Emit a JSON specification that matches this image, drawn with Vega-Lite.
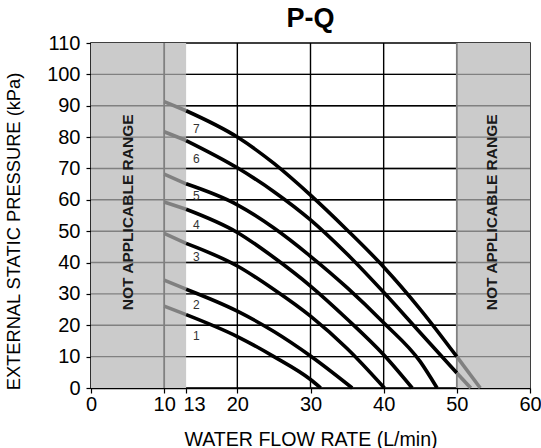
{
  "$schema": "https://vega.github.io/schema/vega-lite/v6.json",
  "width": 439,
  "height": 345,
  "autosize": {"type": "none"},
  "padding": {"left": 91, "top": 43, "right": 11, "bottom": 60},
  "background": "white",
  "title": {"text": "P-Q", "fontSize": 27, "fontWeight": "bold", "font": "Liberation Sans", "color": "black", "offset": 0, "anchor": "middle"},
  "config": {
    "view": {"stroke": "black", "strokeWidth": 1.5},
    "font": "Liberation Sans",
    "axis": {"grid": false, "domainColor": "black", "domainWidth": 1.5, "tickColor": "black", "tickWidth": 1.2, "tickSize": 5, "labelFont": "Liberation Sans", "labelFontSize": 20, "labelColor": "black", "titleFont": "Liberation Sans", "titleFontWeight": "normal", "titleColor": "black", "labelOverlap": false, "labelBound": false, "labelFlush": false}
  },
  "datasets": {
    "hgrid": [{"p": 10}, {"p": 20}, {"p": 30}, {"p": 40}, {"p": 50}, {"p": 60}, {"p": 70}, {"p": 80}, {"p": 90}, {"p": 100}],
    "vgrid": [{"q": 20}, {"q": 30}, {"q": 40}],
    "limits": [{"q": 10}, {"q": 50}],
    "bands": [{"q": 0, "q2": 13}, {"q": 50, "q2": 60}],
    "notes": [{"q": 5.1, "p": 56, "label": "NOT APPLICABLE RANGE"}, {"q": 54.8, "p": 56, "label": "NOT APPLICABLE RANGE"}],
    "labels": [
      {"curve": "7", "q": 14.4, "p": 82.5},
      {"curve": "6", "q": 14.4, "p": 73},
      {"curve": "5", "q": 14.4, "p": 61.3},
      {"curve": "4", "q": 14.4, "p": 52},
      {"curve": "3", "q": 14.4, "p": 41.7},
      {"curve": "2", "q": 14.4, "p": 26.5},
      {"curve": "1", "q": 14.4, "p": 16.6}
    ],
    "curves": [
      {"curve": "7", "segment": "below", "q": 10, "p": 91.3},
      {"curve": "7", "segment": "below", "q": 13, "p": 88.4},
      {"curve": "7", "segment": "rated", "q": 13, "p": 88.4},
      {"curve": "7", "segment": "rated", "q": 20, "p": 80.0},
      {"curve": "7", "segment": "rated", "q": 25, "p": 71.6},
      {"curve": "7", "segment": "rated", "q": 30, "p": 61.5},
      {"curve": "7", "segment": "rated", "q": 35, "p": 50.4},
      {"curve": "7", "segment": "rated", "q": 40, "p": 38.6},
      {"curve": "7", "segment": "rated", "q": 45, "p": 25.1},
      {"curve": "7", "segment": "rated", "q": 50, "p": 10},
      {"curve": "7", "segment": "above", "q": 50, "p": 10},
      {"curve": "7", "segment": "above", "q": 53.2, "p": 0},

      {"curve": "6", "segment": "below", "q": 10, "p": 81.7},
      {"curve": "6", "segment": "below", "q": 13, "p": 78.9},
      {"curve": "6", "segment": "rated", "q": 13, "p": 78.9},
      {"curve": "6", "segment": "rated", "q": 20, "p": 70.2},
      {"curve": "6", "segment": "rated", "q": 25, "p": 62.6},
      {"curve": "6", "segment": "rated", "q": 30, "p": 53.6},
      {"curve": "6", "segment": "rated", "q": 35, "p": 42.7},
      {"curve": "6", "segment": "rated", "q": 40, "p": 30.5},
      {"curve": "6", "segment": "rated", "q": 45, "p": 17.6},
      {"curve": "6", "segment": "rated", "q": 50, "p": 4.8},
      {"curve": "6", "segment": "above", "q": 50, "p": 4.8},
      {"curve": "6", "segment": "above", "q": 51.9, "p": 0},

      {"curve": "5", "segment": "below", "q": 10, "p": 68.2},
      {"curve": "5", "segment": "below", "q": 13, "p": 65.1},
      {"curve": "5", "segment": "rated", "q": 13, "p": 65.1},
      {"curve": "5", "segment": "rated", "q": 20, "p": 58.4},
      {"curve": "5", "segment": "rated", "q": 25, "p": 51},
      {"curve": "5", "segment": "rated", "q": 30, "p": 42},
      {"curve": "5", "segment": "rated", "q": 35, "p": 32},
      {"curve": "5", "segment": "rated", "q": 40, "p": 20.8},
      {"curve": "5", "segment": "rated", "q": 45, "p": 8.4},
      {"curve": "5", "segment": "rated", "q": 47.3, "p": 0},

      {"curve": "4", "segment": "below", "q": 10, "p": 59.3},
      {"curve": "4", "segment": "below", "q": 13, "p": 57},
      {"curve": "4", "segment": "rated", "q": 13, "p": 57},
      {"curve": "4", "segment": "rated", "q": 20, "p": 49.6},
      {"curve": "4", "segment": "rated", "q": 25, "p": 41.6},
      {"curve": "4", "segment": "rated", "q": 30, "p": 32.5},
      {"curve": "4", "segment": "rated", "q": 35, "p": 22},
      {"curve": "4", "segment": "rated", "q": 40, "p": 10.6},
      {"curve": "4", "segment": "rated", "q": 43.9, "p": 0},

      {"curve": "3", "segment": "below", "q": 10, "p": 49.3},
      {"curve": "3", "segment": "below", "q": 13, "p": 46.1},
      {"curve": "3", "segment": "rated", "q": 13, "p": 46.1},
      {"curve": "3", "segment": "rated", "q": 20, "p": 38.9},
      {"curve": "3", "segment": "rated", "q": 25, "p": 31.4},
      {"curve": "3", "segment": "rated", "q": 30, "p": 22.9},
      {"curve": "3", "segment": "rated", "q": 35, "p": 12.6},
      {"curve": "3", "segment": "rated", "q": 40.1, "p": 0},

      {"curve": "2", "segment": "below", "q": 10, "p": 34.4},
      {"curve": "2", "segment": "below", "q": 13, "p": 31.5},
      {"curve": "2", "segment": "rated", "q": 13, "p": 31.5},
      {"curve": "2", "segment": "rated", "q": 20, "p": 24.5},
      {"curve": "2", "segment": "rated", "q": 25, "p": 18},
      {"curve": "2", "segment": "rated", "q": 30, "p": 10.2},
      {"curve": "2", "segment": "rated", "q": 35.7, "p": 0},

      {"curve": "1", "segment": "below", "q": 10, "p": 26.1},
      {"curve": "1", "segment": "below", "q": 13, "p": 23.4},
      {"curve": "1", "segment": "rated", "q": 13, "p": 23.4},
      {"curve": "1", "segment": "rated", "q": 20, "p": 16.4},
      {"curve": "1", "segment": "rated", "q": 25, "p": 10},
      {"curve": "1", "segment": "rated", "q": 30, "p": 2.7},
      {"curve": "1", "segment": "rated", "q": 31.4, "p": 0}
    ]
  },
  "layer": [
    {
      "data": {"name": "bands"},
      "mark": {"type": "rect", "color": "#cbcbcb"},
      "encoding": {
        "x": {"field": "q", "type": "quantitative", "scale": {"domain": [0, 60], "nice": false, "zero": false},
              "axis": {"values": [0, 10, 13, 20, 30, 40, 50, 60], "tickCount": 20, "title": "WATER FLOW RATE (L/min)", "titleFontSize": 19.6, "titleBaseline": "alphabetic", "titleY": 57, "labelPadding": 1,
                       "labelOffset": {"condition": {"test": "datum.value == 13", "value": 8}, "value": 0}}},
        "x2": {"field": "q2"}
      }
    },
    {
      "data": {"name": "hgrid"},
      "mark": {"type": "rule", "color": "#808080", "strokeWidth": 1.4},
      "encoding": {
        "y": {"field": "p", "type": "quantitative", "scale": {"domain": [0, 110], "nice": false, "zero": false},
              "axis": {"values": [0, 10, 20, 30, 40, 50, 60, 70, 80, 90, 100, 110], "tickCount": 20, "title": "EXTERNAL STATIC PRESSURE (kPa)", "titleFontSize": 18.3, "titleX": -68, "titleY": 188, "labelPadding": 6}}
      }
    },
    {
      "data": {"name": "hgrid"},
      "mark": {"type": "rule", "color": "black", "strokeWidth": 1.4},
      "encoding": {"y": {"field": "p", "type": "quantitative"}, "x": {"datum": 13}, "x2": {"datum": 50}}
    },
    {
      "data": {"name": "vgrid"},
      "mark": {"type": "rule", "color": "black", "strokeWidth": 1.4},
      "encoding": {"x": {"field": "q", "type": "quantitative"}}
    },
    {
      "data": {"name": "limits"},
      "mark": {"type": "rule", "color": "#808080", "strokeWidth": 1.8},
      "encoding": {"x": {"field": "q", "type": "quantitative"}}
    },
    {
      "data": {"name": "notes"},
      "mark": {"type": "text", "angle": 270, "fontSize": 15.5, "fontWeight": "bold", "font": "Liberation Sans", "color": "#1a1a1a", "align": "center", "baseline": "middle"},
      "encoding": {"x": {"field": "q", "type": "quantitative"}, "y": {"field": "p", "type": "quantitative"}, "text": {"field": "label"}}
    },
    {
      "data": {"name": "curves"},
      "mark": {"type": "line", "interpolate": "monotone", "strokeWidth": 3.6, "strokeCap": "butt"},
      "encoding": {
        "x": {"field": "q", "type": "quantitative"},
        "y": {"field": "p", "type": "quantitative"},
        "detail": {"field": "curve"},
        "color": {"field": "segment", "type": "nominal", "scale": {"domain": ["below", "rated", "above"], "range": ["#808080", "black", "#808080"]}, "legend": null}
      }
    },
    {
      "data": {"name": "labels"},
      "mark": {"type": "text", "fontSize": 12, "font": "Liberation Sans", "color": "#333333", "align": "center", "baseline": "middle"},
      "encoding": {"x": {"field": "q", "type": "quantitative"}, "y": {"field": "p", "type": "quantitative"}, "text": {"field": "curve"}}
    }
  ]
}
